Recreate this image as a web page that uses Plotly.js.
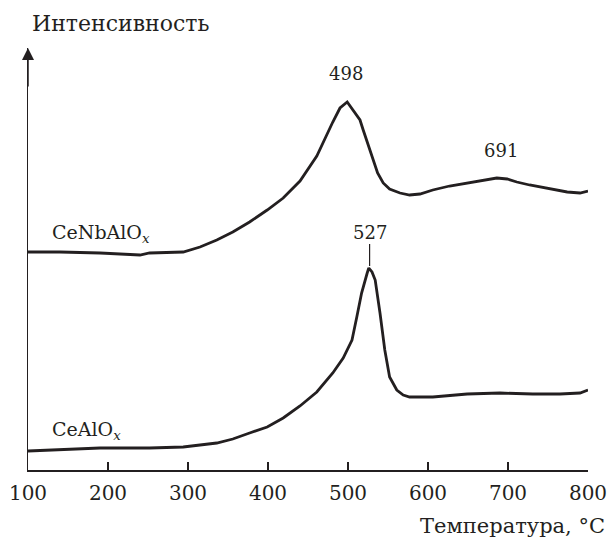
<!DOCTYPE html>
<html>
<head>
<meta charset="utf-8">
<script src="https://cdn.plot.ly/plotly-3.0.1.min.js"></script>
<style>html,body{margin:0;padding:0;background:#fff;}#chart{width:610px;height:538px;}</style>
</head>
<body>
<div id="chart"></div>
<script>
// CeNbAlOx curve (temperature, °C ; intensity, arb. units)
const tempNb = [100,140,190,240,252,294,315,336,356,377,399,419,440,461,481,490,499,506,515,519,525,531,537,544,552,565,577,590,606,627,649,669,686,699,711,727,740,759,774,790,800];
const intNb  = [218,218,217,215,217,218,223,230,238,248,260,272,289,314,348,362,368,360,350,340,325,310,297,287,281,277,275,276,280,284,287,290,292,291,288,285,283,280,278,277,279];
// CeAlOx curve
const tempAl = [100,140,190,252,294,336,356,377,399,419,440,461,481,494,505,511,517,524,526,530,534,540,546,552,561,569,577,606,649,690,731,765,790,800];
const intAl  = [19,20,22,22,23,27,31,37,43,52,64,78,97,112,130,153,177,197,202,198,190,157,120,93,80,75,73,73,76,77,76,76,77,80];

const tickVals = [100,200,300,400,500,600,700,800];
const seriesNames = ['CeNbAlO<sub><i>x</i></sub>', 'CeAlO<sub><i>x</i></sub>'];
const peakTemps = [498, 691, 527];

const ink = '#231f20';
const serif = 'DejaVu Serif';

const traces = [
  {x: tempNb, y: intNb, mode: 'lines', line: {color: ink, width: 2.8}, hoverinfo: 'skip'},
  {x: tempAl, y: intAl, mode: 'lines', line: {color: ink, width: 2.8}, hoverinfo: 'skip'}
];

const layout = {
  width: 610, height: 538,
  margin: {l: 28, r: 22, t: 48, b: 68},
  paper_bgcolor: '#fff', plot_bgcolor: '#fff',
  showlegend: false,
  font: {family: serif, color: ink},
  xaxis: {
    range: [100, 800], tickvals: tickVals, ticktext: tickVals.map(String),
    showline: true, linecolor: ink, linewidth: 1.5,
    ticks: 'inside', ticklen: 8, tickwidth: 1.5, tickcolor: ink,
    showgrid: false, zeroline: false, ticklabelstandoff: 4,
    tickfont: {family: serif, size: 20, color: ink}
  },
  yaxis: {
    range: [0, 422], showline: true, linecolor: ink, linewidth: 1.5,
    showticklabels: false, ticks: '', showgrid: false, zeroline: false
  },
  annotations: [
    {xref: 'x', yref: 'y', x: 100, y: 422, ax: 0, ay: 40, showarrow: true, arrowhead: 2, arrowsize: 1.6, arrowwidth: 1.5, arrowcolor: ink, text: ''},
    {xref: 'paper', yref: 'paper', x: 0.0036, y: 1.059, xanchor: 'left', yanchor: 'middle', showarrow: false, text: 'Интенсивность', font: {family: serif, size: 22, color: ink}},
    {xref: 'paper', yref: 'paper', x: 1.034, y: -0.132, xanchor: 'right', yanchor: 'middle', showarrow: false, text: 'Температура, °C', font: {family: serif, size: 21, color: ink}},
    {xref: 'x', yref: 'y', x: 127.5, y: 237, xanchor: 'left', yanchor: 'middle', showarrow: false, text: seriesNames[0], font: {family: serif, size: 19, color: ink}},
    {xref: 'x', yref: 'y', x: 127.5, y: 40, xanchor: 'left', yanchor: 'middle', showarrow: false, text: seriesNames[1], font: {family: serif, size: 19, color: ink}},
    {xref: 'x', yref: 'y', x: peakTemps[0], y: 397, xanchor: 'center', yanchor: 'middle', showarrow: false, text: String(peakTemps[0]), font: {family: serif, size: 18, color: ink}},
    {xref: 'x', yref: 'y', x: peakTemps[1], y: 320, xanchor: 'center', yanchor: 'middle', showarrow: false, text: String(peakTemps[1]), font: {family: serif, size: 18, color: ink}},
    {xref: 'x', yref: 'y', x: peakTemps[2], y: 204, ax: 0, ay: -34, showarrow: true, arrowhead: 0, arrowwidth: 1.2, arrowcolor: ink, text: String(peakTemps[2]), font: {family: serif, size: 18, color: ink}}
  ]
};

Plotly.newPlot('chart', traces, layout, {displayModeBar: false, staticPlot: true});
</script>
</body>
</html>
